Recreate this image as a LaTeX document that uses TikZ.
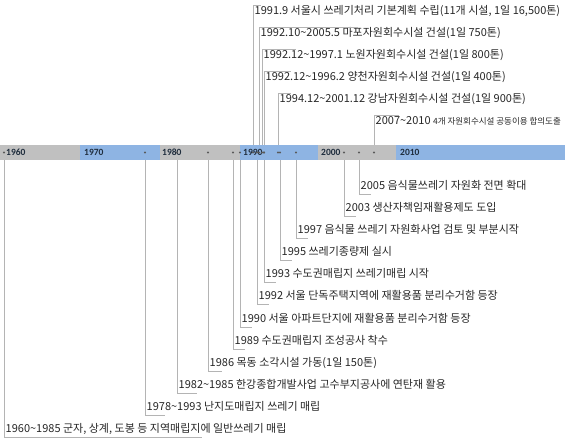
\documentclass[tikz,border=0pt]{standalone}
\usepackage{fontspec}
\setmainfont{Noto Sans CJK KR}
\newfontfamily\decfont{Carlito}
\definecolor{bargray}{HTML}{C0C0C0}
\definecolor{barblue}{HTML}{8EB4E3}
\definecolor{callgray}{HTML}{B4B4B4}
\definecolor{dotgray}{HTML}{5A5A5A}
\definecolor{decink}{HTML}{1F2D3D}
\tikzset{
  evtext/.style={anchor=west, inner sep=1.5pt, text height=8pt, text depth=2.5pt, font=\fontsize{11}{12}\selectfont, text=black!85},
  evdot/.style={circle, fill=dotgray, inner sep=0pt, minimum size=2.2pt},
  decade/.style={anchor=west, inner sep=0pt, font=\decfont\bfseries\fontsize{9.5}{10}\selectfont, text=decink},
  callout/.style={draw=callgray, line width=0.6pt}
}
\begin{document}
\begin{tikzpicture}[x=1pt,y=-1pt]
\useasboundingbox (0,0) rectangle (568,437);
\coordinate (bartop) at (0,145);
\coordinate (barbot) at (0,160);

% timeline bar
\fill[bargray] (0,145) rectangle (80,160);
\fill[barblue] (80,145) rectangle (160,160);
\fill[bargray] (160,145) rectangle (240,160);
\fill[barblue] (240,145) rectangle (318,160);
\fill[bargray] (318,145) rectangle (396,160);
\fill[barblue] (396,145) rectangle (565,160);

\node[decade] (l1960) at (6,152.5) {1960};
\node[decade] (l1970) at (84,152.5) {1970};
\node[decade] (l1980) at (162,152.5) {1980};
\node[decade] (l1990) at (243,152.5) {1990};
\node[decade] (l2000) at (321,152.5) {2000};
\node[decade] (l2010) at (400,152.5) {2010};

% events below the bar
\node[evdot] (p1960) at (4,152.5) {};
\node[evdot] (p1978) at (145,152.5) {};
\node[evdot] (p1982) at (177,152.5) {};
\node[evdot] (p1986) at (208,152.5) {};
\node[evdot] (p1989) at (233,152.5) {};
\node[evdot] (p1990) at (240,152.5) {};
\node[evdot] (p1992) at (257,152.5) {};
\node[evdot] (p1993) at (264,152.5) {};
\node[evdot] (p1995) at (280,152.5) {};
\node[evdot] (p1997) at (296,152.5) {};
\node[evdot] (p2003) at (344,152.5) {};
\node[evdot] (p2005) at (359,152.5) {};

\node[evtext] (t1960) at (4,430) {1960\textasciitilde1985 군자, 상계, 도봉 등 지역매립지에 일반쓰레기 매립};
\node[evtext] (t1978) at (145,408) {1978\textasciitilde1993 난지도매립지 쓰레기 매립};
\node[evtext] (t1982) at (177,386) {1982\textasciitilde1985 한강종합개발사업 고수부지공사에 연탄재 활용};
\node[evtext] (t1986) at (208,364) {1986 목동 소각시설 가동(1일 150톤)};
\node[evtext] (t1989) at (233,342) {1989 수도권매립지 조성공사 착수};
\node[evtext] (t1990) at (240,320) {1990 서울 아파트단지에 재활용품 분리수거함 등장};
\node[evtext] (t1992) at (257,297) {1992 서울 단독주택지역에 재활용품 분리수거함 등장};
\node[evtext] (t1993) at (264,275) {1993 수도권매립지 쓰레기매립 시작};
\node[evtext] (t1995) at (280,253) {1995 쓰레기종량제 실시};
\node[evtext] (t1997) at (296,231) {1997 음식물 쓰레기 자원화사업 검토 및 부분시작};
\node[evtext] (t2003) at (344,209) {2003 생산자책임재활용제도 도입};
\node[evtext] (t2005) at (359,187) {2005 음식물쓰레기 자원화 전면 확대};

\draw[callout] (p1960 |- barbot) -- (p1960 |- t1960.south west) -- ++(198,0);
\draw[callout] (p1978 |- barbot) -- (p1978 |- t1978.south west) -- ++(20,0);
\draw[callout] (p1982 |- barbot) -- (p1982 |- t1982.south west) -- ++(20,0);
\draw[callout] (p1986 |- barbot) -- (p1986 |- t1986.south west) -- ++(14,0);
\draw[callout] (p1989 |- barbot) -- (p1989 |- t1989.south west) -- ++(12,0);
\draw[callout] (p1990 |- barbot) -- (p1990 |- t1990.south west) -- ++(12,0);
\draw[callout] (p1992 |- barbot) -- (p1992 |- t1992.south west) -- ++(12,0);
\draw[callout] (p1993 |- barbot) -- (p1993 |- t1993.south west) -- ++(12,0);
\draw[callout] (p1995 |- barbot) -- (p1995 |- t1995.south west) -- ++(12,0);
\draw[callout] (p1997 |- barbot) -- (p1997 |- t1997.south west) -- ++(12,0);
\draw[callout] (p2003 |- barbot) -- (p2003 |- t2003.south west) -- ++(12,0);
\draw[callout] (p2005 |- barbot) -- (p2005 |- t2005.south west) -- ++(12,0);

% events above the bar
\node[evdot] (q1991) at (253,152.5) {};
\node[evdot] (q1992a) at (259,152.5) {};
\node[evdot] (q1992b) at (262,152.5) {};
\node[evdot] (q1992c) at (264,152.5) {};
\node[evdot] (q1994) at (278,152.5) {};
\node[evdot] (q2007) at (374,152.5) {};

\node[evtext] (s1991) at (253,12) {1991.9 서울시 쓰레기처리 기본계획 수립(11개 시설, 1일 16,500톤)};
\node[evtext] (s1992a) at (259,34) {1992.10\textasciitilde2005.5 마포자원회수시설 건설(1일 750톤)};
\node[evtext] (s1992b) at (262,56) {1992.12\textasciitilde1997.1 노원자원회수시설 건설(1일 800톤)};
\node[evtext] (s1992c) at (264,78) {1992.12\textasciitilde1996.2 양천자원회수시설 건설(1일 400톤)};
\node[evtext] (s1994) at (278,100) {1994.12\textasciitilde2001.12 강남자원회수시설 건설(1일 900톤)};
\node[evtext] (s2007) at (374,122) {2007\textasciitilde2010 {\fontsize{8.5}{9}\selectfont 4개 자원회수시설 공동이용 합의도출}};

\draw[callout] (q1991 |- bartop) -- (q1991 |- s1991.north west) -- ++(8,0);
\draw[callout] (q1992a |- bartop) -- (q1992a |- s1992a.north west) -- ++(99,0);
\draw[callout] (q1992b |- bartop) -- (q1992b |- s1992b.north west) -- ++(34,0);
\draw[callout] (q1992c |- bartop) -- (q1992c |- s1992c.north west) -- ++(27,0);
\draw[callout] (q1994 |- bartop) -- (q1994 |- s1994.north west) -- ++(13,0);
\draw[callout] (q2007 |- bartop) -- (q2007 |- s2007.north west) -- ++(25,0);
\end{tikzpicture}
\end{document}
